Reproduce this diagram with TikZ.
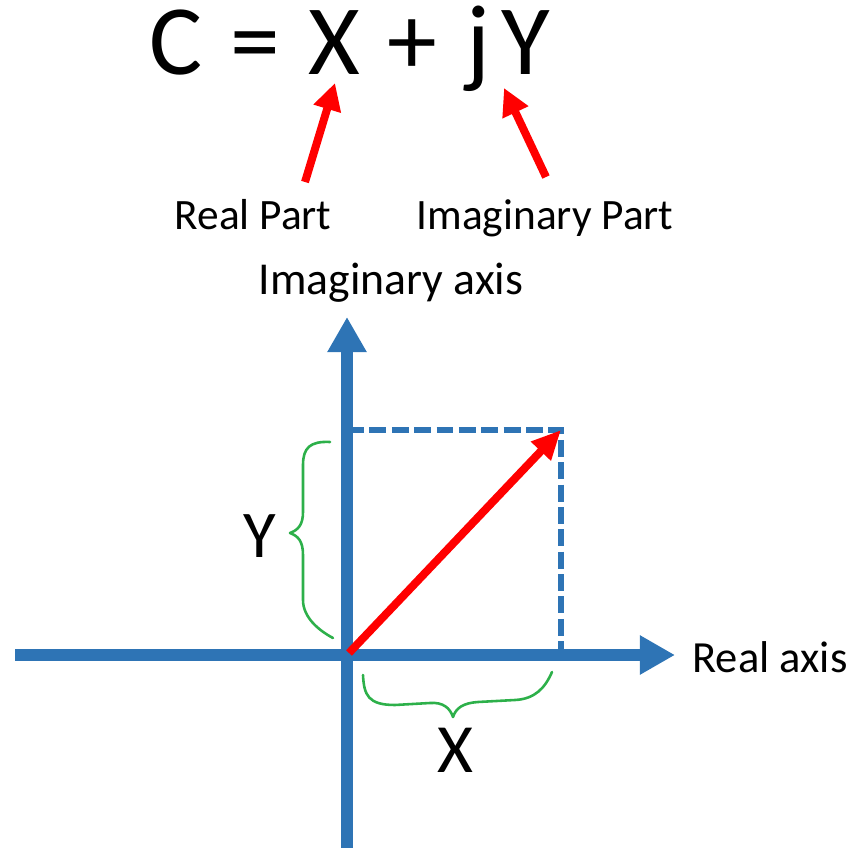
\documentclass[tikz,border=0pt]{standalone}
\usepackage{fontspec}
\setmainfont{Carlito}
\usetikzlibrary{arrows.meta}
\definecolor{axblue}{HTML}{2E74B5}
\definecolor{vred}{HTML}{FF0000}
\definecolor{bgreen}{HTML}{2DB04A}
\tikzset{
  lbl/.style={inner sep=0pt, anchor=base, text=black},
  axis/.style={axblue, line width=10.2pt, -{Triangle[length=30pt,width=31.6pt]}},
  guide/.style={axblue, line width=4.3pt, dash pattern=on 14.5pt off 4.6pt},
  vec/.style={vred, line width=6.8pt, -{Triangle[length=25pt,width=22pt]}},
  pointer/.style={vred, line width=6.8pt, -{Triangle[length=23pt,width=23pt]}},
  brace/.style={bgreen, line width=2.2pt, line cap=round, line join=round},
}
\begin{document}
\begin{tikzpicture}[x=0.03cm,y=-0.03cm]
\useasboundingbox (0,0) rectangle (855,848);
% texts
\node[lbl, anchor=base west, font=\fontsize{85}{100}\selectfont] (eq) at (149,75)
  {C\hspace{24pt}=\hspace{24pt}X\hspace{24pt}+\hspace{25pt}j\hspace{9pt}Y};
\node[lbl, font=\fontsize{37}{44}\selectfont] (rp) at (253,230) {Real Part};
\node[lbl, font=\fontsize{37}{44}\selectfont] (ip) at (545,230) {Imaginary Part};
\node[lbl, font=\fontsize{39}{47}\selectfont] (ia) at (391,295) {Imaginary axis};
\node[lbl, font=\fontsize{38}{46}\selectfont] (ra) at (770,672) {Real axis};
\node[lbl, font=\fontsize{57}{68}\selectfont] (ylab) at (260,557) {Y};
\node[lbl, font=\fontsize{59}{70}\selectfont] (xlab) at (455,772) {X};
% coordinates
\coordinate (o) at (347,655);
\coordinate (vtop) at (347,317);
\coordinate (vbot) at (347,848);
\coordinate (hl) at (15,655);
\coordinate (hr) at (675,655);
\coordinate (p) at (561,430);
\coordinate (py) at (347,430);
\coordinate (px) at (561,655);
\coordinate (xa) at (335,83);
\coordinate (xt) at (305,182);
\coordinate (ya) at (504,88);
\coordinate (yt) at (546,177);
% guides
\draw[guide] (py) -- (p) -- (px);
% axes
\draw[axis] (vbot) -- (vtop);
\draw[axis] (hl) -- (hr);
% vector
\draw[vec] (349,653) -- (p);
% pointers
\draw[pointer] (xt) -- (xa);
\draw[pointer] (yt) -- (ya);
% braces
\draw[brace] (330,442) .. controls (310,441) and (303,448) .. (303,465)
  -- (303,512) .. controls (303,525) and (298,530) .. (290,533)
  .. controls (298,536) and (303,541) .. (303,555)
  -- (303,600) .. controls (303,617) and (318,630) .. (333,638);
\draw[brace] (363,675) .. controls (364,695) and (368,705) .. (395,705)
  -- (430,703) .. controls (443,702) and (450,708) .. (453,717)
  .. controls (456,708) and (463,703) .. (478,702)
  -- (515,700) .. controls (535,699) and (545,688) .. (552,672);
\end{tikzpicture}
\end{document}
